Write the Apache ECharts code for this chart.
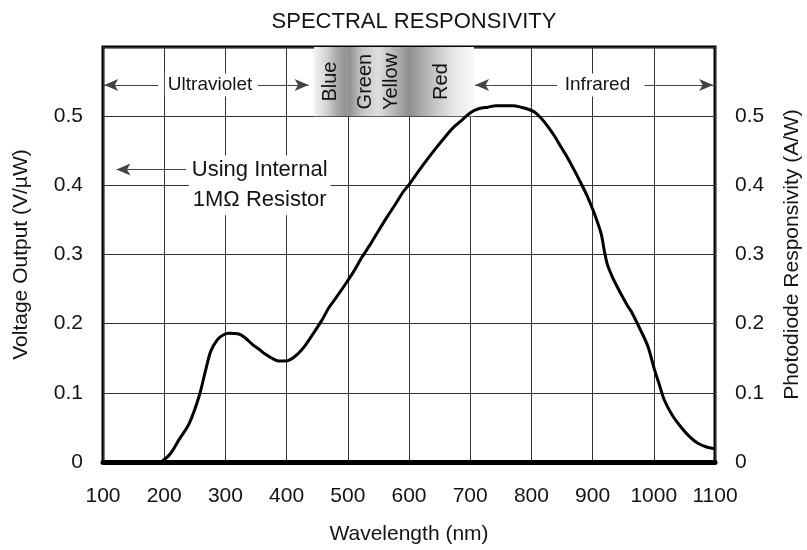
<!DOCTYPE html>
<html>
<head>
<meta charset="utf-8">
<script src="https://cdn.jsdelivr.net/npm/echarts@6/dist/echarts.min.js"></script>
<style>html,body{margin:0;padding:0;background:#fff}#c{width:807px;height:550px}</style>
</head>
<body>
<div id="c"></div>
<script>
// ---- data ----
var wavelength = [195,210,224,241,257,268,276,287,297,306,322,333,344,355,365,376,387,397,406,418,430,443,457,469,482,496,510,523,537,550,564,578,590,599,616,632,646,659,672,686,702,715,729,742,756,770,783,795,805,816,827,838,848,859,870,881,892,903,914,919,924,932,941,950,957,963,976,990,1001,1009,1017,1030,1044,1058,1072,1085,1100];
var response = [0,0.012,0.032,0.056,0.095,0.134,0.160,0.177,0.184,0.186,0.185,0.179,0.170,0.163,0.156,0.150,0.146,0.146,0.148,0.156,0.168,0.185,0.204,0.223,0.239,0.257,0.276,0.296,0.315,0.334,0.354,0.373,0.390,0.400,0.421,0.440,0.456,0.470,0.483,0.494,0.506,0.511,0.513,0.515,0.515,0.515,0.513,0.510,0.506,0.497,0.485,0.471,0.456,0.440,0.422,0.403,0.383,0.359,0.330,0.306,0.286,0.268,0.252,0.237,0.226,0.218,0.195,0.168,0.134,0.112,0.090,0.068,0.051,0.037,0.027,0.022,0.019];
var xTicks = [100,200,300,400,500,600,700,800,900,1000,1100];
var yTicks = [0,0.1,0.2,0.3,0.4,0.5];
var bandNames = ['Blue','Green\nYellow','Red'];
var bandStart = [445,500,600];
var bandEnd = [500,600,706];
var bandTop = [0.6,0.6,0.6];
var bandBottom = [0.5,0.5,0.5];
var regionNames = ['Ultraviolet','Infrared'];
var regionCenter = [275,908];
var regionLevel = [0.545,0.545];
var regionArrowFrom = [[190,353],[842,985]];
var regionArrowTo = [[102,436],[708,1097]];
var noteText = 'Using Internal\n1M\u03A9 Resistor';
var notePos = [356,0.400];
var noteArrowFrom = [236,0.423];
var noteArrowTo = [122,0.423];

// ---- chart ----
var font = '"Liberation Sans", Arial, sans-serif';
var ink = '#141414';
var chart = echarts.init(document.getElementById('c'), null, {renderer:'canvas'});
var curve = wavelength.map(function(w,i){return [w,response[i]];});

function grad(stops){
  return {type:'linear',x:0,y:0,x2:1,y2:0,colorStops:stops.map(function(c,i){return {offset:i/(stops.length-1),color:c};})};
}
var bandGrads = [
  ['#f2f2f2','#d8d8d8','#aaaaaa','#8e8e8e'],
  ['#8c8c8c','#c8c8c8','#dedede','#b8b8b8','#8e8e8e'],
  ['#8e8e8e','#bdbdbd','#e4e4e4','#f8f8f8']
];
var markAreaData = bandNames.map(function(n,i){
  return [{xAxis:bandStart[i],yAxis:bandBottom[i],itemStyle:{color:grad(bandGrads[i])}},{xAxis:bandEnd[i],yAxis:bandTop[i]}];
});
var markLineData = [];
regionNames.forEach(function(n,i){
  for (var k=0;k<2;k++){
    markLineData.push([{coord:[regionArrowFrom[i][k],regionLevel[i]]},{coord:[regionArrowTo[i][k],regionLevel[i]]}]);
  }
});
markLineData.push([{coord:noteArrowFrom},{coord:noteArrowTo}]);

var yLabelFmt = function(v){ return yTicks.some(function(t){return Math.abs(t-v)<1e-9;}) ? String(Math.round(v*10)/10) : ''; };
var xLabelFmt = function(v){ return String(v); };
var txt = {fontFamily:font,color:ink,opacity:1,textBorderWidth:0,textBorderColor:'transparent',textShadowBlur:0};
var dotStyle = {color:ink,opacity:1};

chart.setOption({
  animation:false,
  backgroundColor:'#fff',
  title:{text:'SPECTRAL RESPONSIVITY',left:409,textAlign:'center',top:6,textStyle:{fontFamily:font,fontSize:22,fontWeight:'normal',color:ink}},
  grid:{left:103,right:92,top:47,bottom:88,show:true,borderColor:'#000',borderWidth:3,backgroundColor:'transparent',containLabel:false,outerBoundsMode:'none'},
  xAxis:{type:'value',min:xTicks[0],max:xTicks[xTicks.length-1],interval:100,
    name:'Wavelength (nm)',nameLocation:'middle',nameGap:62,nameTextStyle:{fontFamily:font,fontSize:21,color:ink},
    axisLine:{show:true,lineStyle:{color:'#000',width:5}},axisTick:{show:false},
    axisLabel:{fontFamily:font,fontSize:21,color:ink,margin:24,formatter:xLabelFmt},
    splitLine:{show:true,lineStyle:{color:'#333',width:1}}},
  yAxis:[
    {type:'value',min:0,max:0.6,interval:0.1,position:'left',
     name:'Voltage Output (V/\u00B5W)',nameLocation:'middle',nameGap:71,nameRotate:90,nameTextStyle:{fontFamily:font,fontSize:21,color:ink},
     axisLine:{show:false},axisTick:{show:false},
     axisLabel:{fontFamily:font,fontSize:21,color:ink,margin:20,formatter:yLabelFmt},
     splitLine:{show:true,lineStyle:{color:'#333',width:1}}},
    {type:'value',min:0,max:0.6,interval:0.1,position:'right',
     name:'Photodiode Responsivity (A/W)',nameLocation:'middle',nameGap:67,nameRotate:90,nameTextStyle:{fontFamily:font,fontSize:21,color:ink},
     axisLine:{show:false},axisTick:{show:false},
     axisLabel:{fontFamily:font,fontSize:21,color:ink,margin:20,formatter:yLabelFmt},
     splitLine:{show:false}}
  ],
  series:[
    {type:'line',name:'band',data:[],silent:true,z:1,
     markArea:{silent:true,data:markAreaData,label:{show:false}},
     markLine:{silent:true,symbol:['none','arrow'],symbolSize:[9,14],label:{show:false},
       lineStyle:{color:'#444',width:1,type:'solid'},data:markLineData}},
    {type:'line',name:'Responsivity',data:curve,showSymbol:false,smooth:0.3,z:5,
     lineStyle:{color:'#000',width:3}},
    {type:'scatter',name:'bandLabels',symbolSize:0,z:6,silent:true,itemStyle:dotStyle,
     data:bandNames.map(function(n,i){return {value:[(bandStart[i]+bandEnd[i])/2,(bandTop[i]+bandBottom[i])/2],name:n};}),
     label:Object.assign({show:true,position:'inside',rotate:90,formatter:function(p){return p.name;},fontSize:20,lineHeight:26},txt)},
    {type:'scatter',name:'regionLabels',symbolSize:0,z:6,silent:true,itemStyle:dotStyle,
     data:regionNames.map(function(n,i){return {value:[regionCenter[i],regionLevel[i]],name:n};}),
     label:Object.assign({show:true,position:'inside',formatter:function(p){return p.name;},fontSize:19,backgroundColor:'#fff',padding:[2,3]},txt)},
    {type:'scatter',name:'note',symbolSize:0,z:6,silent:true,itemStyle:dotStyle,
     data:[{value:notePos,name:noteText}],
     label:Object.assign({show:true,position:'inside',formatter:function(p){return p.name;},fontSize:22,lineHeight:30,backgroundColor:'#fff',padding:[0,3]},txt)}
  ]
});
</script>
</body>
</html>
